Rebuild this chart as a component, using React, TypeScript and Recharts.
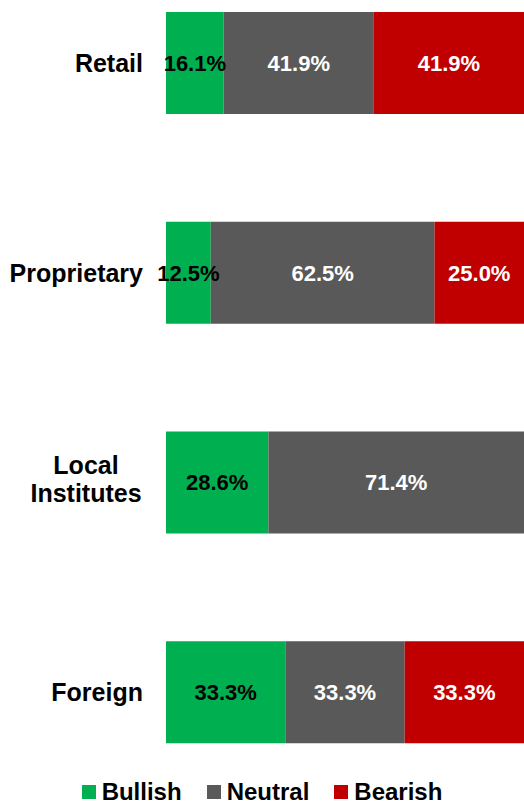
import React from 'react'
import { BarChart, Bar, XAxis, YAxis, Legend, LabelList } from 'recharts'

const categories = ['Retail', 'Proprietary', 'Local Institutes', 'Foreign']
const bullish = [16.1, 12.5, 28.6, 33.3]
const neutral = [41.9, 62.5, 71.4, 33.3]
const bearish = [41.9, 25.0, 0, 33.3]

const series = [
  { key: 'bullish', name: 'Bullish', color: '#00B050', text: '#000000' },
  { key: 'neutral', name: 'Neutral', color: '#595959', text: '#FFFFFF' },
  { key: 'bearish', name: 'Bearish', color: '#C00000', text: '#FFFFFF' },
]

const data = categories.map((name, i) => ({
  name,
  bullish: bullish[i],
  neutral: neutral[i],
  bearish: bearish[i],
}))

const FONT = '"Liberation Sans", Arial, sans-serif'

const fmt = (v: any) => (v ? `${Number(v).toFixed(1)}%` : '')

function CategoryTick({ x, y, payload }: any) {
  const words = String(payload.value).split(' ')
  const right = x - 15
  // long two-word labels wrap onto two centered lines
  if (words.length > 1 && payload.value.length > 12) {
    const cx = right - 57
    return (
      <text x={cx} y={y} textAnchor="middle" fontFamily={FONT} fontWeight="bold" fontSize={25} fill="#000">
        <tspan x={cx} dy={-8}>{words[0]}</tspan>
        <tspan x={cx} dy={28}>{words.slice(1).join(' ')}</tspan>
      </text>
    )
  }
  return (
    <text x={right} y={y} dy={9} textAnchor="end" fontFamily={FONT} fontWeight="bold" fontSize={25} fill="#000">
      {payload.value}
    </text>
  )
}

function LegendContent() {
  return (
    <div style={{ display: 'flex', justifyContent: 'center', alignItems: 'center', height: 22, fontFamily: FONT }}>
      {series.map((s, i) => (
        <div key={s.key} style={{ display: 'flex', alignItems: 'center', marginLeft: i === 0 ? 0 : 25 }}>
          <span style={{ width: 14, height: 14, background: s.color, display: 'inline-block', marginRight: 6 }} />
          <span style={{ fontSize: 24, fontWeight: 'bold', color: '#000', lineHeight: '22px' }}>{s.name}</span>
        </div>
      ))}
    </div>
  )
}

export default function App() {
  return (
    <div style={{ position: 'absolute', left: 0, top: 0, width: 524, height: 805, overflow: 'hidden', background: '#fff' }}>
      <div style={{ position: 'absolute', left: 0, top: -42 }}>
        <BarChart
          width={524}
          height={839}
          data={data}
          layout="vertical"
          stackOffset="expand"
          margin={{ top: 0, right: 0, bottom: 0, left: 0 }}
        >
          <XAxis type="number" hide domain={[0, 1]} />
          <YAxis
            type="category"
            dataKey="name"
            width={166}
            axisLine={false}
            tickLine={false}
            tick={<CategoryTick />}
            interval={0}
          />
          <Legend
            layout="horizontal"
            verticalAlign="middle"
            align="center"
            width={524}
            wrapperStyle={{ top: 823, left: 0 }}
            content={<LegendContent />}
          />
          {series.map((s) => (
            <Bar key={s.key} dataKey={s.key} name={s.name} stackId="a" fill={s.color} barSize={102} isAnimationActive={false}>
              <LabelList
                dataKey={s.key}
                position="center"
                formatter={fmt}
                fill={s.text}
                fontFamily={FONT}
                fontWeight="bold"
                fontSize={22}
              />
            </Bar>
          ))}
        </BarChart>
      </div>
    </div>
  )
}
